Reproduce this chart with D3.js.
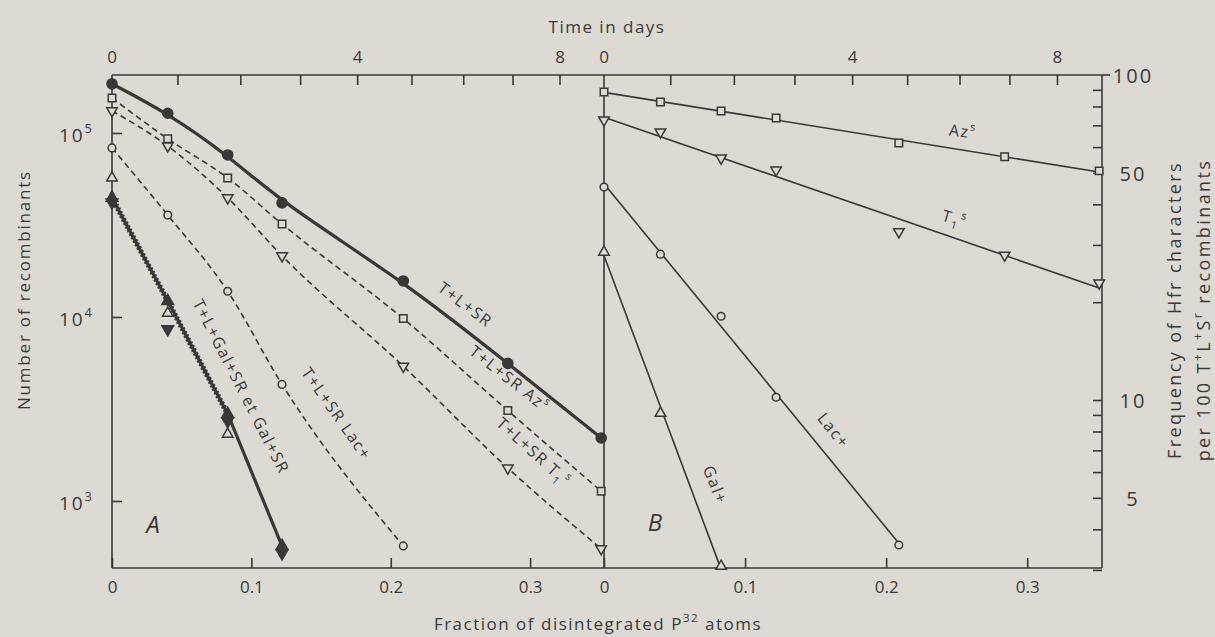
<!DOCTYPE html>
<html><head><meta charset="utf-8">
<script src="https://cdn.jsdelivr.net/npm/d3@7"></script>
<style>
body{margin:0;background:#dcdad3;}
svg{display:block;}
text{font-family:"Open Sans","DejaVu Sans",sans-serif;fill:#3a3a3a;}
</style></head><body>
<svg id="chart" width="1215" height="637"></svg>
<script>
// Fraction of P32 atoms disintegrated at each sampling time
const fractions = [0, 0.040, 0.083, 0.122, 0.209, 0.284, 0.351];

// Panel A — number of recombinants
const tlsCounts     = [1.85e5, 1.28e5, 7.6e4, 4.17e4, 1.57e4, 5.6e3, 2.2e3];
const tlsAzCounts   = [1.55e5, 9.3e4, 5.7e4, 3.2e4, 9.8e3, 3.1e3, 1.13e3];
const tlsTiCounts   = [1.32e5, 8.5e4, 4.44e4, 2.15e4, 5.4e3, 1.51e3, 550];
const tlsLacCounts  = [8.3e4, 3.58e4, 1.38e4, 4.3e3, 570];
const tlGalCounts   = [5.7e4, 1.05e4, 2.31e3];
const galUpCounts   = [4.44e4, 1.22e4, 2.97e3, 569];
const galDownCounts = [4.2e4, 8.6e3, 2.72e3, 521];

// Panel B — frequency of Hfr characters per 100 T+L+Sr recombinants
const azFreq  = [88.6, 82.6, 77.5, 73.7, 61.8, 56.0, 50.7];
const tiFreq  = [72.7, 66.8, 55.5, 51.0, 32.9, 27.9, 22.9];
const lacFreq = [45.2, 28.1, 18.1, 10.2, 3.58];
const galFreq = [28.5, 9.1, 3.08];

// Axis ticks
const fracTicks   = [0, 0.1, 0.2, 0.3];
const fracLabels  = ["0", "0.1", "0.2", "0.3"];
const dayTicks    = [1, 2, 3, 4, 5, 6, 7, 8];
const dayLabelled = [0, 4, 8];
const countTicks  = [1e3, 1e4, 1e5];
const countExp    = ["3", "4", "5"];
const freqTicks   = [3, 4, 5, 6, 7, 8, 9, 10, 20, 30, 40, 50, 60, 70, 80, 90];
const freqLabelled = [5, 10, 50, 100];

const halfLifeDays = 14.3;
const dayToFraction = t => 1 - Math.pow(2, -t / halfLifeDays);

const ink = "#383838";
const paper = "#dcdad3";
const svg = d3.select("#chart");
const X0 = 112, XM = 604, X1 = 1102, YT = 75, YB = 568;
const fMax = 0.353;

const xA = d3.scaleLinear().domain([0, fMax]).range([X0, XM]);
const xB = d3.scaleLinear().domain([0, fMax]).range([XM, X1]);
const yA = d3.scaleLog().domain([1e3, 1e5]).range([501, 133]);
const yB = d3.scaleLog().domain([10, 100]).range([400, 75]);

// rich text helper (superscripts / subscripts)
function rich(sel, parts, fs) {
  let shift = 0;
  parts.forEach(p => {
    const target = p.sup ? -fs * 0.45 : p.sub ? fs * 0.3 : 0;
    sel.append("tspan")
      .attr("dy", target - shift)
      .attr("font-size", (p.sup || p.sub) ? fs * 0.68 : fs)
      .text(p.t);
    shift = target;
  });
  return sel;
}

// frame
const frame = svg.append("g").attr("stroke", ink).attr("stroke-width", 1.6).attr("fill", "none");
frame.append("line").attr("x1", X0).attr("x2", X1).attr("y1", YT).attr("y2", YT);
frame.append("line").attr("x1", X0).attr("x2", X1).attr("y1", YB).attr("y2", YB);
frame.append("line").attr("x1", X0).attr("x2", X0).attr("y1", YT).attr("y2", YB);
frame.append("line").attr("x1", XM).attr("x2", XM).attr("y1", YT).attr("y2", YB);
frame.append("line").attr("x1", X1).attr("x2", X1).attr("y1", YT).attr("y2", YB);

// bottom axes (fraction)
[xA, xB].forEach(sc => {
  const g = svg.append("g").attr("transform", `translate(0,${YB})`)
    .call(d3.axisBottom(sc).tickValues(fracTicks).tickSize(-10).tickPadding(13)
      .tickFormat((d, i) => fracLabels[i]));
  g.select(".domain").remove();
  g.selectAll("line").attr("stroke", ink).attr("stroke-width", 1.6);
  g.selectAll("text").attr("font-size", 17).attr("fill", ink).attr("font-family", "Open Sans");
});

// top axes (time in days)
[xA, xB].forEach(sc => {
  svg.append("g").selectAll("line").data(dayTicks).join("line")
    .attr("x1", d => sc(dayToFraction(d))).attr("x2", d => sc(dayToFraction(d)))
    .attr("y1", YT).attr("y2", YT + 10).attr("stroke", ink).attr("stroke-width", 1.6);
  svg.append("g").selectAll("text").data(dayLabelled).join("text")
    .attr("x", d => sc(dayToFraction(d))).attr("y", YT - 12)
    .attr("text-anchor", "middle").attr("font-size", 17).text(d => d);
});

// left axis (counts)
{
  const g = svg.append("g").attr("transform", `translate(${X0},0)`)
    .call(d3.axisLeft(yA).tickValues(countTicks).tickSize(-10).tickFormat(""));
  g.select(".domain").remove();
  g.selectAll("line").attr("stroke", ink).attr("stroke-width", 1.6);
  countTicks.forEach((v, i) => {
    const t = svg.append("text").attr("x", 94).attr("y", yA(v) + 9)
      .attr("text-anchor", "end").attr("letter-spacing", 2);
    rich(t, [{ t: "10" }, { t: countExp[i], sup: true }], 19);
  });
}

// right axis (frequency)
{
  const g = svg.append("g").attr("transform", `translate(${X1},0)`)
    .call(d3.axisRight(yB).tickValues(freqTicks).tickSize(-9).tickFormat(""));
  g.select(".domain").remove();
  g.selectAll("line").attr("stroke", ink).attr("stroke-width", 1.6);
  svg.append("line").attr("x1", X1).attr("x2", X1 + 8).attr("y1", yB(100)).attr("y2", yB(100))
    .attr("stroke", ink).attr("stroke-width", 1.6);
  svg.append("g").selectAll("text").data(freqLabelled).join("text")
    .attr("x", 1133).attr("y", d => yB(d) + 8)
    .attr("text-anchor", "middle").attr("font-size", 20).attr("letter-spacing", 2).text(d => d);
}

// axis titles
svg.append("text").attr("x", 607).attr("y", 33).attr("text-anchor", "middle")
  .attr("font-size", 17).attr("letter-spacing", 1.5).text("Time in days");
rich(svg.append("text").attr("x", 598).attr("y", 630).attr("text-anchor", "middle")
  .attr("letter-spacing", 1.5),
  [{ t: "Fraction of disintegrated P" }, { t: "32", sup: true }, { t: " atoms" }], 17);
svg.append("text").attr("transform", "translate(30,290) rotate(-90)").attr("text-anchor", "middle")
  .attr("font-size", 17).attr("letter-spacing", 1.8).text("Number of recombinants");
svg.append("text").attr("transform", "translate(1181,310) rotate(-90)").attr("text-anchor", "middle")
  .attr("font-size", 18).attr("letter-spacing", 2.4).text("Frequency of Hfr characters");
rich(svg.append("text").attr("transform", "translate(1210,310) rotate(-90)").attr("text-anchor", "middle")
  .attr("letter-spacing", 2.4),
  [{ t: "per 100 T" }, { t: "+", sup: true }, { t: "L" }, { t: "+", sup: true }, { t: "S" }, { t: "r", sup: true },
   { t: " recombinants" }], 18);

// markers
const sym = (type, size) => d3.symbol().type(type).size(size)();
function markers(g, vals, sc, yc, kind, opts = {}) {
  const pts = vals.map((v, i) => [sc(fractions[i]), yc(v)]);
  const filled = !!opts.filled;
  const path = {
    circle: sym(d3.symbolCircle, opts.size || 46),
    square: sym(d3.symbolSquare, opts.size || 56),
    triUp: sym(d3.symbolTriangle, opts.size || 48),
    triDown: sym(d3.symbolTriangle, opts.size || 48)
  }[kind];
  g.selectAll(null).data(pts).join("path")
    .attr("d", path)
    .attr("transform", d => `translate(${d[0]},${d[1]})${kind === "triDown" ? " rotate(180)" : ""}`)
    .attr("fill", filled ? ink : paper)
    .attr("stroke", ink).attr("stroke-width", 1.5);
}

// ---------- Panel A ----------
const gA = svg.append("g");
const pairs = vals => vals.map((v, i) => [fractions[i], v]);
const smoothA = d3.line().x(d => xA(d[0])).y(d => yA(d[1])).curve(d3.curveBasis);
const lineA = d3.line().x(d => xA(d[0])).y(d => yA(d[1])).curve(d3.curveMonotoneX);

gA.append("path").attr("d", smoothA(pairs(tlsCounts))).attr("fill", "none")
  .attr("stroke", ink).attr("stroke-width", 3.2);
[tlsAzCounts, tlsTiCounts, tlsLacCounts].forEach(vals => {
  gA.append("path").attr("d", lineA(pairs(vals))).attr("fill", "none")
    .attr("stroke", ink).attr("stroke-width", 1.6).attr("stroke-dasharray", "6,4");
});
// Gal+ lines: heavy dashed over the T+L+Gal+SR range, solid beyond
const galLine = d3.line().x(d => xA(d[0])).y(d => yA(d[1]));
gA.append("path").attr("d", galLine(pairs(galUpCounts))).attr("fill", "none")
  .attr("stroke", ink).attr("stroke-width", 3.2);
gA.append("path").attr("d", galLine(pairs(galUpCounts).slice(0, 3))).attr("fill", "none")
  .attr("stroke", ink).attr("stroke-width", 5.5).attr("stroke-dasharray", "2,2");

markers(gA, tlsCounts, xA, yA, "circle", { filled: true, size: 80 });
markers(gA, tlsAzCounts, xA, yA, "square");
markers(gA, tlsTiCounts, xA, yA, "triDown");
markers(gA, tlsLacCounts, xA, yA, "circle");
markers(gA, tlGalCounts, xA, yA, "triUp");
markers(gA, galUpCounts, xA, yA, "triUp", { filled: true, size: 60 });
markers(gA, galDownCounts, xA, yA, "triDown", { filled: true, size: 60 });

// ---------- Panel B ----------
const gB = svg.append("g");
function logFit(vals) {
  const xs = fractions.slice(0, vals.length), ys = vals.map(Math.log10);
  const mx = d3.mean(xs), my = d3.mean(ys);
  const b = d3.sum(xs, (x, i) => (x - mx) * (ys[i] - my)) / d3.sum(xs, x => (x - mx) ** 2);
  return { a: my - b * mx, b, end: xs[xs.length - 1] };
}
[azFreq, tiFreq, lacFreq, galFreq].forEach(vals => {
  const f = logFit(vals);
  gB.append("line")
    .attr("x1", xB(0)).attr("y1", yB(10 ** f.a))
    .attr("x2", xB(f.end)).attr("y2", yB(10 ** (f.a + f.b * f.end)))
    .attr("stroke", ink).attr("stroke-width", 1.6);
});
markers(gB, azFreq, xB, yB, "square");
markers(gB, tiFreq, xB, yB, "triDown");
markers(gB, lacFreq, xB, yB, "circle");
markers(gB, galFreq, xB, yB, "triUp");

// ---------- curve labels ----------
function label(x, y, angle, parts, fs = 16, ls = 1.5) {
  const t = svg.append("text").attr("transform", `translate(${x},${y}) rotate(${angle})`)
    .attr("text-anchor", "middle").attr("letter-spacing", ls);
  rich(t, parts, fs);
}
label(462, 309, 37, [{ t: "T+L+SR" }]);
label(506, 383, 38, [{ t: "T+L+SR " }, { t: "Az" }, { t: "s", sup: true }]);
label(530, 456, 42, [{ t: "T+L+SR " }, { t: "T" }, { t: "1", sub: true }, { t: "s", sup: true }]);
label(332, 417, 55, [{ t: "T+L+SR Lac+" }]);
label(236, 389, 63, [{ t: "T+L+Gal+SR  et  Gal+SR" }]);

label(962, 137, 6, [{ t: "Az" }, { t: "s", sup: true }]);
label(953, 224, 16, [{ t: "T" }, { t: "1", sub: true }, { t: "s", sup: true }]);
label(829, 434, 51, [{ t: "Lac+" }]);
label(710, 487, 68, [{ t: "Gal+" }]);

svg.append("text").attr("x", 153).attr("y", 533).attr("text-anchor", "middle")
  .attr("font-size", 24).attr("font-style", "italic").text("A");
svg.append("text").attr("x", 655).attr("y", 531).attr("text-anchor", "middle")
  .attr("font-size", 24).attr("font-style", "italic").text("B");
</script>
</body></html>
